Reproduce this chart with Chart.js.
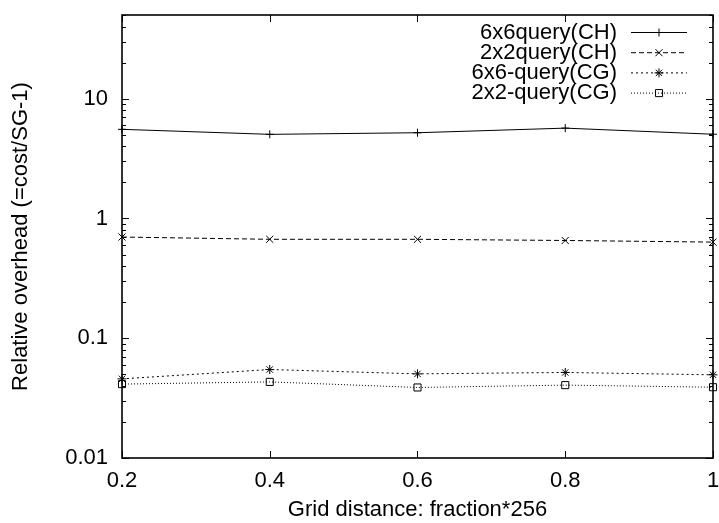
<!DOCTYPE html>
<html>
<head>
<meta charset="utf-8">
<title>Relative overhead</title>
<script src="https://cdn.jsdelivr.net/npm/chart.js@4.4.0/dist/chart.umd.min.js"></script>
<style>
  html, body { margin: 0; padding: 0; background: #fff; }
  canvas { display: block; }
</style>
</head>
<body>
<canvas id="overheadChart" width="719" height="523"></canvas>
<script>
// Values
const xValues = [0.2, 0.4, 0.6, 0.8, 1];
const seriesNames = ['6x6query(CH)', '2x2query(CH)', '6x6-query(CG)', '2x2-query(CG)'];
const ch6x6 = [5.55, 5.04, 5.2, 5.68, 5.05];
const ch2x2 = [0.70, 0.67, 0.67, 0.655, 0.635];
const cg6x6 = [0.0458, 0.0548, 0.0504, 0.0518, 0.0495];
const cg2x2 = [0.0414, 0.0432, 0.0388, 0.0406, 0.0390];
const xTicks = [0.2, 0.4, 0.6, 0.8, 1];
const yTicks = [0.01, 0.1, 1, 10];

const FONT = "'Liberation Sans', Arial, Helvetica, sans-serif";
Chart.defaults.font.family = FONT;
Chart.defaults.font.size = 22;
Chart.defaults.color = '#000';

function toPoints(values) {
    return xValues.map((x, i) => ({ x: x, y: values[i] }));
}

function makeSeries(label, values, dash, style, radius) {
    return {
        label: label,
        data: toPoints(values),
        borderColor: '#000',
        borderWidth: 1,
        borderDash: dash,
        pointStyle: style,
        pointRadius: radius,
        pointBorderColor: '#000',
        pointBackgroundColor: 'rgba(0,0,0,0)',
        pointBorderWidth: 1,
        fill: false,
        tension: 0,
        clip: false
    };
}

// Frame, inside tic marks (mirrored like gnuplot) and the key
const gnuplotFrame = {
    id: 'gnuplotFrame',
    beforeDatasetsDraw(chart) {
        const ctx = chart.ctx;
        const area = chart.chartArea;
        const xs = chart.scales.x;
        const ys = chart.scales.y;
        ctx.save();
        ctx.strokeStyle = '#000';
        ctx.lineWidth = 1;
        ctx.beginPath();
        // x tics, bottom and top
        xTicks.forEach(v => {
            const px = Math.round(xs.getPixelForValue(v)) + 0.5;
            ctx.moveTo(px, area.bottom); ctx.lineTo(px, area.bottom - 7);
            ctx.moveTo(px, area.top); ctx.lineTo(px, area.top + 7);
        });
        // y tics, major and minor, left and right
        yTicks.forEach(d => {
            for (let k = 1; k <= 9; k++) {
                const v = k * d;
                if (v > ys.max + 1e-9) break;
                const len = k === 1 ? 7 : 4;
                const py = Math.round(ys.getPixelForValue(v)) + 0.5;
                ctx.moveTo(area.left, py); ctx.lineTo(area.left + len, py);
                ctx.moveTo(area.right, py); ctx.lineTo(area.right - len, py);
            }
        });
        ctx.stroke();
        ctx.lineWidth = 1.6;
        ctx.strokeRect(area.left, area.top, area.right - area.left, area.bottom - area.top);
        ctx.restore();
    },
    afterDraw(chart) {
        const ctx = chart.ctx;
        ctx.save();
        ctx.font = '22px ' + FONT;
        ctx.textAlign = 'right';
        ctx.textBaseline = 'middle';
        chart.data.datasets.forEach((ds, i) => {
            const y = 32.5 + i * 20.2;
            ctx.fillStyle = '#000';
            ctx.fillText(ds.label, 617, y);
            ctx.strokeStyle = '#000';
            ctx.lineWidth = 1;
            ctx.setLineDash(ds.borderDash);
            ctx.beginPath();
            ctx.moveTo(631, y);
            ctx.lineTo(687, y);
            ctx.stroke();
            ctx.setLineDash([]);
            ctx.fillStyle = 'rgba(0,0,0,0)';
            Chart.helpers.drawPoint(ctx, {
                pointStyle: ds.pointStyle,
                radius: ds.pointRadius,
                borderWidth: 1,
                rotation: 0
            }, 659, y);
        });
        ctx.restore();
    }
};

const overheadChart = new Chart(document.getElementById('overheadChart'), {
    type: 'line',
    data: {
        datasets: [
            makeSeries(seriesNames[0], ch6x6, [], 'cross', 4),
            makeSeries(seriesNames[1], ch2x2, [5, 3], 'crossRot', 5),
            makeSeries(seriesNames[2], cg6x6, [2, 3], 'star', 4.5),
            makeSeries(seriesNames[3], cg2x2, [1, 2], 'rect', 5)
        ]
    },
    options: {
        responsive: false,
        animation: false,
        devicePixelRatio: 1,
        layout: { padding: { left: 0, top: 15, right: 5, bottom: 0 } },
        plugins: {
            legend: { display: false },
            tooltip: { enabled: false }
        },
        scales: {
            x: {
                type: 'linear',
                position: 'bottom',
                min: 0.2,
                max: 1,
                afterBuildTicks: scale => { scale.ticks = xTicks.map(v => ({ value: v })); },
                afterFit: scale => {
                    scale.height = 65;
                    scale.paddingLeft = 0;
                    scale.paddingRight = 0;
                },
                ticks: {
                    padding: 10,
                    maxRotation: 0,
                    autoSkip: false,
                    color: '#000',
                    callback: v => String(v)
                },
                grid: { display: false, drawTicks: false },
                border: { display: false },
                title: {
                    display: true,
                    text: 'Grid distance: fraction*256',
                    color: '#000',
                    padding: { top: 0, bottom: 0 }
                }
            },
            y: {
                type: 'logarithmic',
                position: 'left',
                min: 0.01,
                max: 50,
                afterBuildTicks: scale => { scale.ticks = yTicks.map(v => ({ value: v })); },
                afterFit: scale => {
                    scale.width = 122;
                    scale.paddingTop = 0;
                    scale.paddingBottom = 0;
                },
                ticks: {
                    padding: 14,
                    autoSkip: false,
                    color: '#000',
                    callback: v => String(v)
                },
                grid: { display: false, drawTicks: false },
                border: { display: false },
                title: {
                    display: true,
                    text: 'Relative overhead (=cost/SG-1)',
                    color: '#000',
                    padding: { top: 8, bottom: 0 }
                }
            }
        }
    },
    plugins: [gnuplotFrame]
});
</script>
</body>
</html>
